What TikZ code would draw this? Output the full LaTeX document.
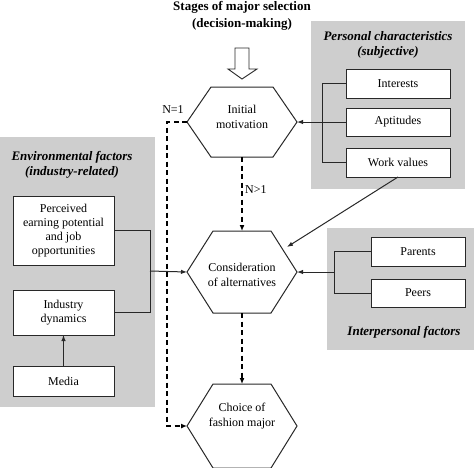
\documentclass[tikz,border=0pt]{standalone}
\usepackage{fontspec}
\setmainfont{Liberation Serif}
\usetikzlibrary{arrows.meta,calc}
\definecolor{bggray}{RGB}{206,206,206}
\definecolor{lin}{RGB}{40,40,40}
\tikzset{
  panel/.style={fill=bggray,draw=none},
  factorbox/.style={draw=lin,line width=1pt,fill=white,inner sep=0pt,outer sep=0pt,align=center,font=\fontsize{12}{14}\selectfont},
  hexnode/.style={draw=none,inner sep=0pt,outer sep=0pt,minimum width=110pt,align=center,font=\fontsize{12}{14}\selectfont},
  hextext/.style={inner sep=0pt,align=center,font=\fontsize{12}{14.5}\selectfont},
  hexline/.style={draw=lin,line width=1pt,fill=white},
  header/.style={font=\fontsize{13}{15.5}\selectfont\bfseries\itshape,align=center,inner sep=0pt},
  title/.style={font=\fontsize{13}{15}\selectfont\bfseries,inner sep=0pt},
  conn/.style={draw=lin,line width=1pt},
  arr/.style={conn,-{Latex[length=6pt,width=4.5pt]}},
  dasharr/.style={draw=black,line width=1.6pt,dash pattern=on 5pt off 3.5pt,-{Latex[length=6pt,width=5pt]}},
  lbl/.style={font=\fontsize{12}{14}\selectfont,inner sep=0pt}
}
\newcommand{\hexdraw}[2]{%
  \path[hexline] (#1.west) -- ([xshift=#2pt]#1.north west) -- ([xshift=-#2pt]#1.north east) -- (#1.east)
   -- ([xshift=-#2pt]#1.south east) -- ([xshift=#2pt]#1.south west) -- cycle;}
\begin{document}
\begin{tikzpicture}[x=1pt,y=-1pt]
\useasboundingbox (0,0) rectangle (474,467);
% panels
\fill[panel] (0,137) rectangle (155,407);
\fill[panel] (311,21) rectangle (465,189);
\fill[panel] (327,228) rectangle (474,350);
% title
\node[title] (t1) at (242,7) {Stages of major selection};
\node[title] (t2) at (242,24) {(decision-making)};
% hollow arrow
\draw[draw=lin,line width=0.9pt,fill=white] (235,48) -- (249,48) -- (249,69) -- (257,69) -- (242,79) -- (228,69) -- (235,69) -- cycle;
% hexagons
\node[hexnode,minimum height=70pt] (h1) at (242,122) {};
\node[hexnode,minimum height=82pt] (h2) at (242,272) {};
\node[hexnode,minimum height=84pt] (h3) at (242,426) {};
\hexdraw{h1}{24}
\hexdraw{h2}{26}
\hexdraw{h3}{26}
\node[hextext] (h1t) at (242,117) {Initial\\motivation};
\node[hextext] (h2t) at (242,275) {Consideration\\of alternatives};
\node[hextext] (h3t) at (242,416) {Choice of\\fashion major};
% personal
\node[header] (ph) at (388,45) {Personal characteristics\\(subjective)};
\node[factorbox,minimum width=104pt,minimum height=29pt] (int) at (398,83.5) {Interests};
\node[factorbox,minimum width=104pt,minimum height=28pt] (apt) at (398,122) {Aptitudes};
\node[factorbox,minimum width=104pt,minimum height=29pt] (wv) at (398,162.5) {Work values};
\draw[conn] (int.west) -- ++(-24,0) |- (wv.west);
\draw[arr] (apt.west) -- (h1.east);
\coordinate (wvtip) at (287,247);
\draw[arr] (wv.south) -- (wvtip);
% interpersonal
\node[factorbox,minimum width=94pt,minimum height=29pt] (par) at (418,251.5) {Parents};
\node[factorbox,minimum width=94pt,minimum height=28pt] (peer) at (418,293) {Peers};
\node[header] (ih) at (404,332) {Interpersonal factors};
\draw[conn] (par.west) -- ++(-37,0) |- (peer.west);
\coordinate (ipj) at (334,272);
\draw[arr] (ipj) -- (h2.east);
% environmental
\node[header] (eh) at (72,165) {Environmental factors\\(industry-related)};
\node[factorbox,minimum width=101pt,minimum height=69pt] (perc) at (63.5,230.5) {Perceived\\earning potential\\and job\\opportunities};
\node[factorbox,minimum width=101pt,minimum height=45pt] (ind) at (63.5,312.5) {Industry\\dynamics};
\node[factorbox,minimum width=101pt,minimum height=30pt] (med) at (63.5,381) {Media};
\draw[conn] (perc.east) -- ++(36,0) |- (ind.east);
\coordinate (envj) at (150,271);
\draw[arr] (envj) -- (h2.west);
\draw[arr] (med.north) -- (ind.south);
% dashed flow
\draw[dasharr] (h1.south) -- (h2.north);
\node[lbl,anchor=west] (n2) at (245,190) {N>1};
\draw[dasharr] (h2.south) -- (h3.north);
\draw[dasharr] (h1.west) -- ++(-20,0) |- (h3.west);
\node[lbl] (n1) at (173,110) {N=1};
\end{tikzpicture}
\end{document}
